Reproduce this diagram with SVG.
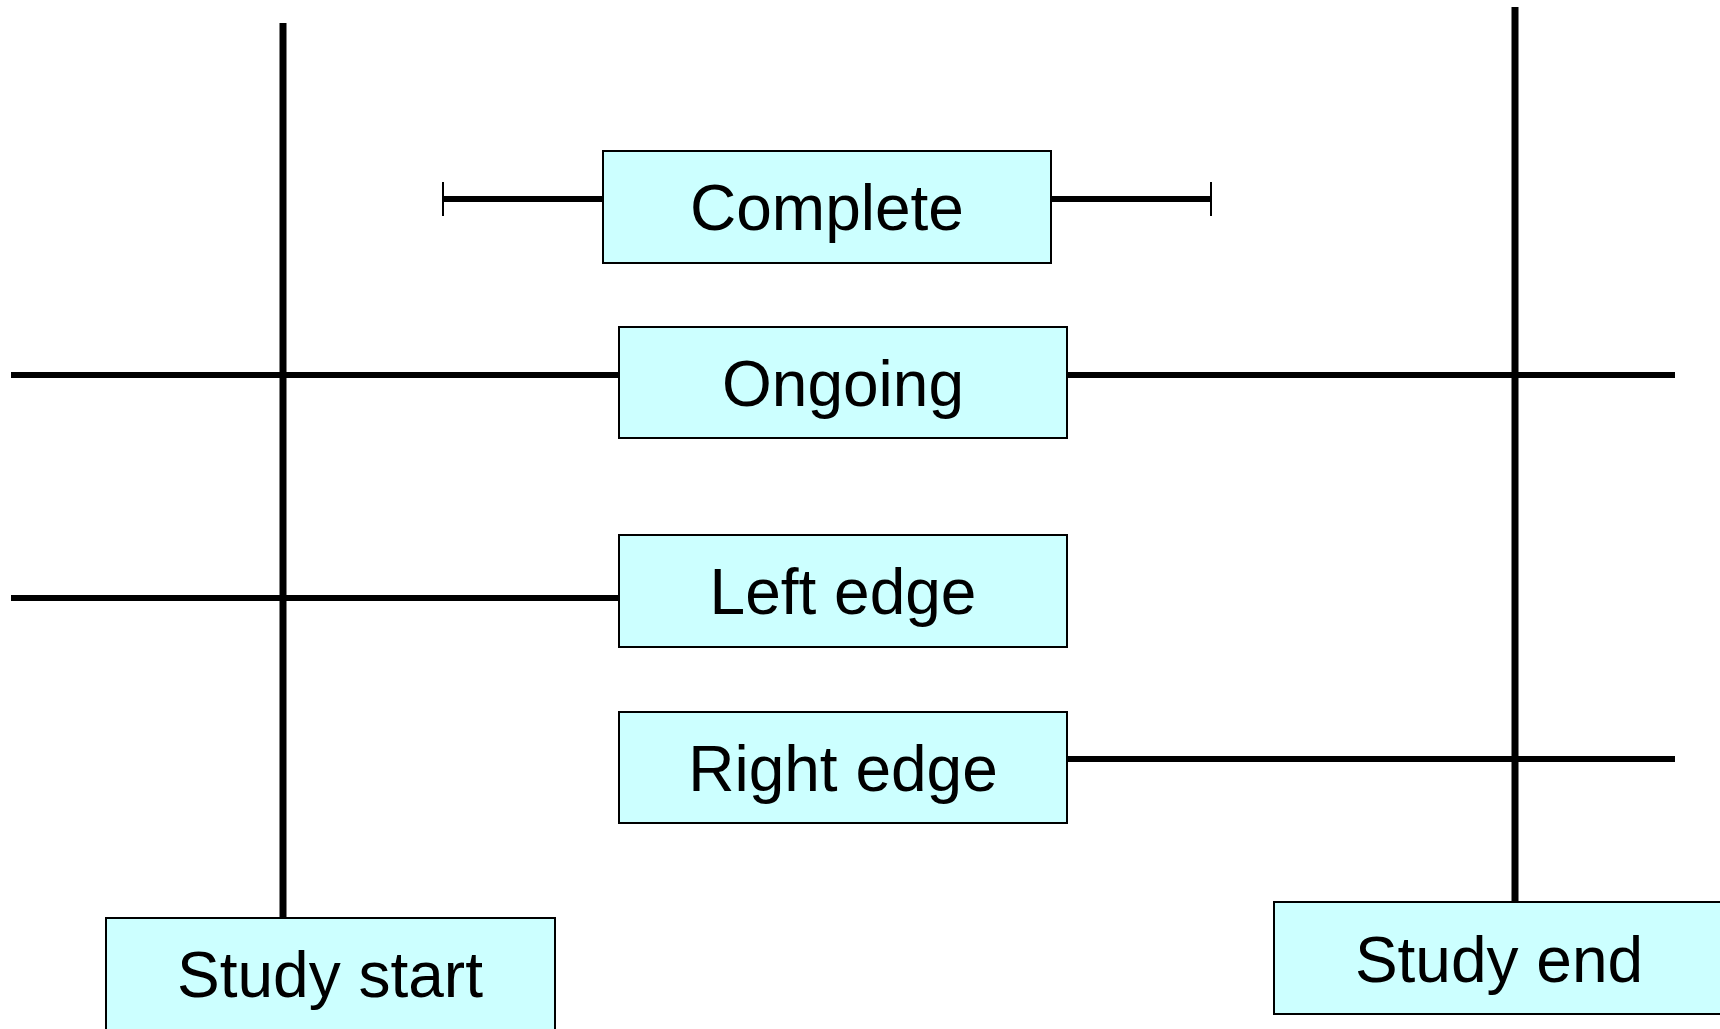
<svg xmlns="http://www.w3.org/2000/svg" width="1720" height="1029" viewBox="0 0 1720 1029">
<style>
.box{fill:#ccffff;stroke:#000;stroke-width:2}
.lbl{font-family:"Liberation Sans",Arial,sans-serif;font-size:64px;fill:#000;text-anchor:middle}
.h{stroke:#000;stroke-width:6;fill:none}
.v{stroke:#000;stroke-width:7;fill:none}
.t{stroke:#000;stroke-width:2;fill:none}
</style>
<rect width="1720" height="1029" fill="#fff"/>
<g id="connectors">
<line class="v" x1="283" y1="23" x2="283" y2="918"/>
<line class="v" x1="1515" y1="7" x2="1515" y2="902"/>
<line class="h" x1="443" y1="199" x2="603" y2="199"/>
<line class="h" x1="1051" y1="199" x2="1211" y2="199"/>
<line class="t" x1="443" y1="182" x2="443" y2="216"/>
<line class="t" x1="1211" y1="182" x2="1211" y2="216"/>
<line class="h" x1="11" y1="375" x2="619" y2="375"/>
<line class="h" x1="1067" y1="375" x2="1675" y2="375"/>
<line class="h" x1="11" y1="598" x2="619" y2="598"/>
<line class="h" x1="1067" y1="759" x2="1675" y2="759"/>
</g>
<g id="complete"><rect class="box" x="603" y="151" width="448" height="112"/><text class="lbl" x="827" y="230">Complete</text></g>
<g id="ongoing"><rect class="box" x="619" y="327" width="448" height="111"/><text class="lbl" x="843" y="406">Ongoing</text></g>
<g id="left-edge"><rect class="box" x="619" y="535" width="448" height="112"/><text class="lbl" x="843" y="614">Left edge</text></g>
<g id="right-edge"><rect class="box" x="619" y="712" width="448" height="111"/><text class="lbl" x="843" y="791">Right edge</text></g>
<g id="study-start"><rect class="box" x="106" y="918" width="449" height="112"/><text class="lbl" x="330" y="997">Study start</text></g>
<g id="study-end"><rect class="box" x="1274" y="902" width="450" height="112"/><text class="lbl" x="1499" y="982">Study end</text></g>
</svg>
